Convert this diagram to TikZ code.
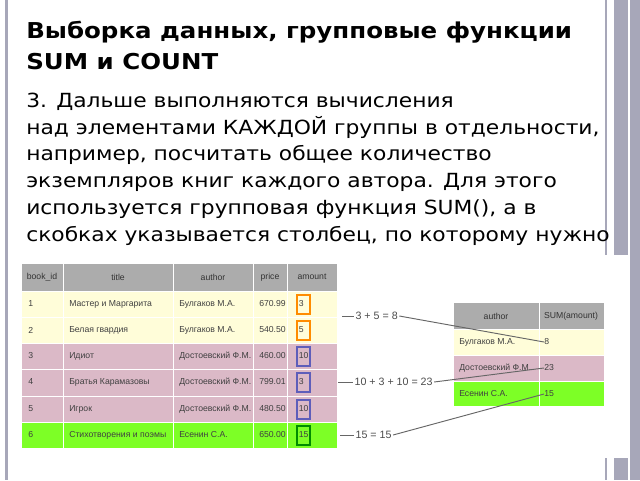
\documentclass[tikz,border=0pt]{standalone}
\usepackage{fontspec}
\setmainfont{DejaVu Sans}
\newfontfamily\wide[FakeStretch=1.12]{DejaVu Sans}
\newfontfamily\tabf{Liberation Sans}
\begin{document}
\begin{tikzpicture}[x=0.75pt,y=-0.75pt,
 cell/.style={anchor=west,font=\tabf\fontsize{6.5}{7}\selectfont,inner sep=0pt,text=black!75},
 hcell/.style={anchor=center,font=\tabf\fontsize{6.5}{7}\selectfont,inner sep=0pt,text=black!80},
 lbl/.style={anchor=west,font=\tabf\fontsize{8}{9}\selectfont,inner sep=1pt,text=black!70},
 con/.style={draw=black!60,line width=0.7pt},
 abox/.style={draw,line width=1.5pt,minimum width=13pt*0.75,minimum height=19pt*0.75,inner sep=0pt,text width=7pt,align=left}]
\useasboundingbox (0,0) rectangle (640,480);
\fill[white] (0,0) rectangle (640,480);
\fill[black!20!blue!15!gray!60] (5,0) rectangle (8,480);
\fill[black!20!blue!15!gray!60] (605,0) rectangle (607,480);
\fill[black!20!blue!15!gray!60] (614,0) rectangle (628,480);
\fill[black!20!blue!15!gray!60] (630,0) rectangle (640,480);
% title
\node[anchor=base west,inner sep=0pt,font=\wide\bfseries\fontsize{16.4}{18}\selectfont] (t1) at (26,38) {Выборка данных, групповые функции};
\node[anchor=base west,inner sep=0pt,font=\wide\bfseries\fontsize{16.4}{18}\selectfont] (t2) at (26,69) {SUM и COUNT};
\begin{scope}
\clip (0,0) rectangle (640,252);
\foreach \y/\t [count=\i] in {107/{3. Дальше выполняются вычисления},134/{над элементами КАЖДОЙ группы в отдельности,},160/{например, посчитать общее количество},187/{экземпляров книг каждого автора. Для этого},214/{используется групповая функция SUM(), а в},241/{скобках указывается столбец, по которому нужно},268/{суммировать значения.}}
  \node[anchor=base west,inner sep=0pt,font=\wide\fontsize{14.6}{15}\selectfont] (b\i) at (26,\y) {\t};
\end{scope}
% image area
\fill[white] (20,255) rectangle (630,458);
\fill[black!20!blue!15!gray!60] (614,458) rectangle (628,480);
% left table
\fill[gray!65] (22,264) rectangle (337,291);
\fill[yellow!15!white] (22,291) rectangle (337,343);
\fill[violet!25!pink!70!gray!60] (22,343) rectangle (337,422);
\fill[green!60!yellow!85] (22,422) rectangle (337,448);
\foreach \x in {63,173,253,287} \draw[white,line width=0.6pt] (\x,264) -- (\x,448);
\foreach \y in {291,317,343,369,396,422} \draw[white,line width=0.6pt] (22,\y) -- (337,\y);
\node[hcell] (h1) at (42,277) {book\_id};
\node[hcell] (h2) at (118,277) {title};
\node[hcell] (h3) at (213,277) {author};
\node[hcell] (h4) at (270,277) {price};
\node[hcell] (h5) at (312,277) {amount};
\foreach \y/\a/\b/\c/\d [count=\i] in {304/1/Мастер и Маргарита/Булгаков М.А./670.99,330/2/Белая гвардия/Булгаков М.А./540.50,356/3/Идиот/Достоевский Ф.М./460.00,382/4/Братья Карамазовы/Достоевский Ф.М./799.01,409/5/Игрок/Достоевский Ф.М./480.50,435/6/Стихотворения и поэмы/Есенин С.А./650.00}{
 \node[cell] (id\i) at (28,\y) {\a};
 \node[cell] (ti\i) at (69,\y) {\b};
 \node[cell] (au\i) at (179,\y) {\c};
 \node[cell] (pr\i) at (259,\y) {\d};}
\foreach \y/\v/\c [count=\i] in {304/3/orange!90!yellow,330/5/orange!90!yellow,356/10/blue!40!gray!90,382/3/blue!40!gray!90,409/10/blue!40!gray!90,435/15/green!55!black}
 \node[abox,draw=\c,anchor=west,font=\tabf\fontsize{6.5}{7}\selectfont,text=black!75] (am\i) at (296,\y) {\v};
% right table
\fill[gray!65] (454,303) rectangle (604,329);
\fill[yellow!15!white] (454,329) rectangle (604,355);
\fill[violet!25!pink!70!gray!60] (454,355) rectangle (604,381);
\fill[green!60!yellow!85] (454,381) rectangle (604,406);
\draw[white,line width=0.6pt] (539,303) -- (539,406);
\foreach \y in {329,355,381} \draw[white,line width=0.6pt] (454,\y) -- (604,\y);
\node[hcell] (rh1) at (496,316) {author};
\node[hcell] (rh2) at (571,316) {SUM(amount)};
\node[cell] (ra1) at (459,342) {Булгаков М.А.};
\node[cell] (ra2) at (459,368) {Достоевский Ф.М.};
\node[cell] (ra3) at (459,394) {Есенин С.А.};
\node[cell] (rs1) at (544,342) {8};
\node[cell] (rs2) at (544,368) {23};
\node[cell] (rs3) at (544,394) {15};
% labels
\node[lbl] (l1) at (354,316) {3 + 5 = 8};
\node[lbl] (l2) at (353,382) {10 + 3 + 10 = 23};
\node[lbl] (l3) at (354,435) {15 = 15};
\coordinate (d1) at (342,316); \coordinate (d2) at (338,382); \coordinate (d3) at (340,435);
\draw[con] (d1) -- (l1.west); \draw[con] (d2) -- (l2.west); \draw[con] (d3) -- (l3.west);
\draw[con] (l1.east) -- (rs1.west);
\draw[con] (l2.east) -- (rs2.west);
\draw[con] (l3.east) -- (rs3.west);
\end{tikzpicture}
\end{document}
